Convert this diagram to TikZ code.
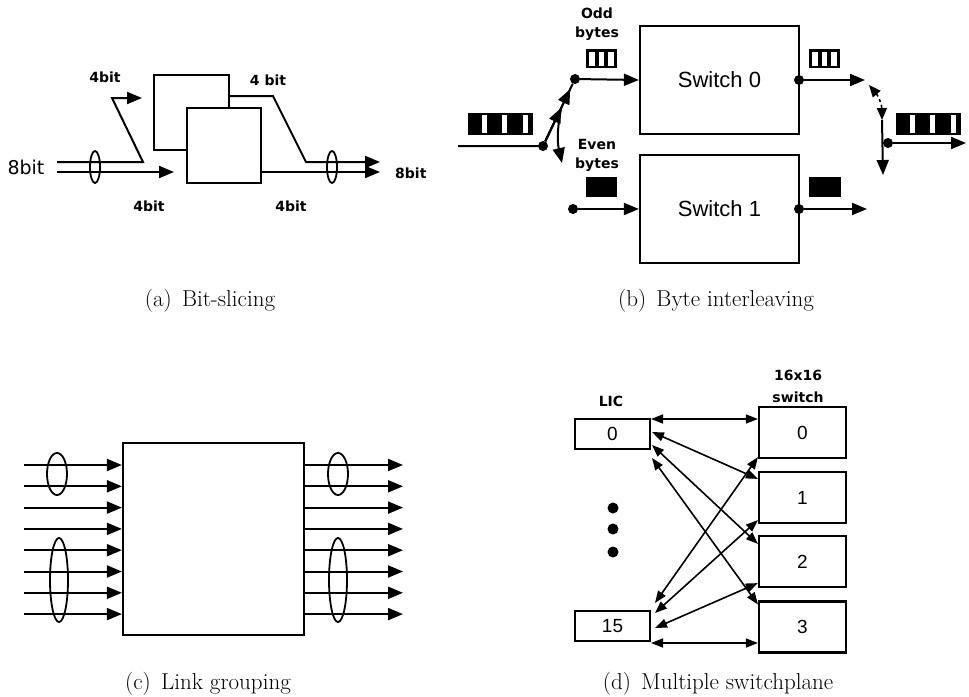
\documentclass[tikz,border=0pt]{standalone}
\usepackage{fontspec}
\setsansfont{Liberation Sans}
\newfontfamily\tagfont{DejaVu Sans}
\usetikzlibrary{arrows.meta,calc}

\tikzset{
  box/.style={draw, fill=white, line width=2.2pt, inner sep=0pt},
  tag/.style={font=\tagfont\bfseries\fontsize{14}{14}\selectfont, inner sep=0pt},
  subcap/.style={font=\fontsize{23}{23}\selectfont, anchor=base, inner sep=0pt},
  pin/.style={circle, fill=black, inner sep=0pt, minimum size=10pt},
  link/.style={line width=2pt, -{Triangle[length=15pt,width=12pt]}},
  both/.style={line width=1.6pt, {Triangle[length=12pt,width=9pt]}-{Triangle[length=12pt,width=9pt]}},
  ring/.style={line width=1.8pt},
}

\begin{document}
\begin{tikzpicture}[x=1pt, y=-1pt]
\useasboundingbox (0,0) rectangle (969,696);

\node[box, minimum width=75, minimum height=75] (back) at (191.5,112.5) {};
\node[box, minimum width=74, minimum height=75] (front) at (224,145.5) {};
\coordinate (a1) at (57,162); \coordinate (a2) at (143,162);
\coordinate (a3) at (112,98); \coordinate (a4) at (142,98);
\coordinate (a5) at (57,172); \coordinate (a6) at (174,172);
\coordinate (a7) at (273,96); \coordinate (a8) at (306,162);
\coordinate (a9) at (380,162); \coordinate (a10) at (380,172);
\draw[link] (a1) -- (a2) -- (a3) -- (a4);
\draw[link] (a5) -- (a6);
\draw[link] (back.north east |- a7) -- (a7) -- (a8) -- (a9);
\draw[link] (front.east |- a10) -- (a10);
\draw[ring] (95,167) ellipse [x radius=5, y radius=16] (332,167) ellipse [x radius=5, y radius=16];
\node[font=\tagfont\fontsize{19}{19}\selectfont, inner sep=0pt] (bin) at (26,167) {8bit};
\node[tag, anchor=west] (bout) at (395,173) {8bit};
\node[tag] (ta) at (105,77) {4bit};
\node[tag] (tb) at (149,206) {4bit};
\node[tag] (tc) at (268,80) {4 bit};
\node[tag] (td) at (291,206) {4bit};

\node[box, minimum width=159, minimum height=108, font=\sffamily\fontsize{22}{22}\selectfont] (sw0) at (719.5,80) {Switch 0};
\node[box, minimum width=159, minimum height=108, font=\sffamily\fontsize{22}{22}\selectfont] (sw1) at (719.5,209) {Switch 1};
\node[pin] (p1) at (543,146) {}; \node[pin] (p2) at (575,79) {};
\node[pin] (p3) at (573,209) {}; \node[pin] (p4) at (799,80) {};
\node[pin] (p5) at (799,209) {}; \node[pin] (p6) at (888,143) {};
\coordinate (b1) at (458,146); \coordinate (b2) at (865,80);
\coordinate (b3) at (867,209); \coordinate (b4) at (966,143);
\coordinate (b5) at (882,120); \coordinate (b6) at (883,175);
\coordinate (b7) at (562,163); \coordinate (b8) at (869,85);
\coordinate (b9) at ($(p1)!0.57!(p2)$);
\draw[line width=2pt] (b1) -- (p1) -- (p2);
\draw[link] (p1) -- (b9);
\draw[link] (p1) -- ($(p1)!0.85!(p2)$);
\draw[link] (b9) to[bend right=12] (b7);
\draw[link] (p2) -- (sw0.west);
\draw[link] (p3) -- (sw1.west);
\draw[link] (p4) -- (b2);
\draw[link] (p5) -- (b3);
\draw[link] (p6) -- (b4);
\draw[dashed, line width=1.6pt, {Triangle[length=12pt,width=10pt]}-{Triangle[length=12pt,width=10pt]}] (b8) to[bend left=20] (b5);
\draw[link] (b5) -- (b6);
\foreach \x in {468,896} {
  \fill (\x,113) rectangle ++(65,22);
  \foreach \s in {14,34,55} \fill[white] (\x+\s,115) rectangle ++(5,18);
}
\foreach \x in {586,809} {
  \fill (\x,49) rectangle ++(31,19);
  \foreach \s in {3,12.5,22} \fill[white] (\x+\s,51.5) rectangle ++(5.5,14);
}
\fill (586,177) rectangle ++(31,20);
\fill (809,177) rectangle ++(32,20);
\node[tag] (odd) at (597,13) {Odd};
\node[tag] (oddb) at (597,34) {bytes};
\node[tag] (even) at (597,144) {Even};
\node[tag] (evenb) at (597,165) {bytes};

\node[box, minimum width=181, minimum height=192] (grp) at (213.5,539) {};
\foreach \i in {0,...,7} {
  \coordinate (l\i) at (24,465+21.3*\i);
  \coordinate (r\i) at (403,465+21.3*\i);
  \draw[link] (l\i) -- (l\i -| grp.west);
  \draw[link] (l\i -| grp.east) -- (r\i);
}
\draw[ring] (57,474) ellipse [x radius=10, y radius=21] (59,580) ellipse [x radius=9, y radius=42];
\draw[ring] (338,474) ellipse [x radius=10, y radius=21] (338,580) ellipse [x radius=9, y radius=42];

\node[box, minimum width=75, minimum height=30, font=\sffamily\fontsize{19}{19}\selectfont] (lic0) at (612.5,434) {0};
\node[box, minimum width=75, minimum height=30, font=\sffamily\fontsize{19}{19}\selectfont] (lic15) at (612.5,626) {15};
\foreach \k/\y in {0/432.5,1/497.5,2/561.5,3/627}
  \node[box, minimum width=87, minimum height=51, font=\sffamily\fontsize{19}{19}\selectfont] (pl\k) at (802.5,\y) {\k};
\node[tag] (lic) at (611,401) {LIC};
\node[tag] (sz) at (798,375) {16x16};
\node[tag] (swt) at (798,397) {switch};
\foreach \y in {508,529,552} \fill (613,\y) circle (5.5);
\coordinate (c1) at (651,419); \coordinate (c2) at (652,432);
\coordinate (c3) at (652,445); \coordinate (c4) at (652,458);
\coordinate (c5) at (655,603); \coordinate (c6) at (655,613);
\coordinate (c7) at (655,628); \coordinate (c8) at (651,643);
\draw[both] (c1) -- (c1 -| pl0.west);
\draw[both] (c2) -- ($(pl1.north west)+(0,8)$);
\draw[both] (c3) -- ($(pl2.north west)+(0,9)$);
\draw[both] (c4) -- ($(pl3.north west)+(0,4)$);
\draw[both] (c5) -- ($(pl0.south west)+(0,-2)$);
\draw[both] (c6) -- ($(pl1.south west)+(0,-4)$);
\draw[both] (c7) -- ($(pl2.south west)+(0,-5)$);
\draw[both] (c8) -- (c8 -| pl3.west);

\node[subcap] (capa) at (210,306) {(a)\hspace{0.45em}Bit-slicing};
\node[subcap] (capb) at (716,306) {(b)\hspace{0.45em}Byte interleaving};
\node[subcap] (capc) at (208,689) {(c)\hspace{0.45em}Link grouping};
\node[subcap] (capd) at (718,689) {(d)\hspace{0.45em}Multiple switchplane};
\end{tikzpicture}
\end{document}
